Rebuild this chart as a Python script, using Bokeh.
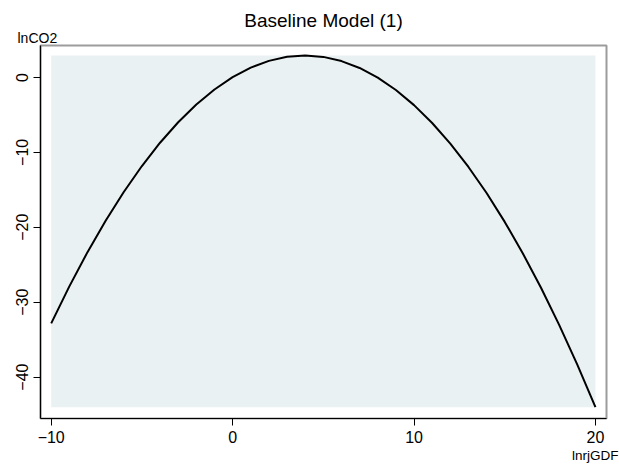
from bokeh.plotting import figure
from bokeh.models import Range1d, FixedTicker, Title, ColumnDataSource
from bokeh.embed import file_html
from bokeh.resources import INLINE

# Curve values (lnrjGDF -> fitted lnCO2)
x_vals = [-10, -9, -8, -7, -6, -5, -4, -3, -2, -1, 0, 1, 2, 3, 4, 5, 6, 7, 8, 9,
          10, 11, 12, 13, 14, 15, 16, 17, 18, 19, 20]
y_vals = [-32.83, -27.89, -23.32, -19.12, -15.29, -11.82, -8.71, -5.98, -3.60, -1.60,
          0.04, 1.32, 2.22, 2.76, 2.94, 2.75, 2.19, 1.27, -0.02, -1.67,
          -3.69, -6.08, -8.83, -11.95, -15.43, -19.28, -23.50, -28.08, -33.03, -38.34, -44.02]
x_ticks = [-10, 0, 10, 20]
y_ticks = [-40, -30, -20, -10, 0]
title_text = "Baseline Model (1)"
y_title = "lnCO2"
x_title = "lnrjGDF"

FONT = "Liberation Sans"

p = figure(width=619, height=464, output_backend="svg", toolbar_location=None,
           title=None,
           x_range=Range1d(-10.59, 20.61), y_range=Range1d(-45.53, 4.27),
           min_border_left=40, min_border_right=13, min_border_top=45, min_border_bottom=46)
p.background_fill_color = "white"
p.border_fill_color = "white"
p.outline_line_color = "#9c9c9c"
p.outline_line_width = 2
p.xgrid.visible = False
p.ygrid.visible = False

# shaded plot region spanning the data extent
src_box = ColumnDataSource(dict(left=[min(x_vals)], right=[max(x_vals)],
                                bottom=[min(y_vals)], top=[max(y_vals)]))
p.quad(left="left", right="right", bottom="bottom", top="top", source=src_box,
       fill_color="#E9F1F3", line_color=None)

p.line(x_vals, y_vals, line_color="black", line_width=2)

for ax in (p.xaxis[0], p.yaxis[0]):
    ax.axis_line_color = "black"
    ax.axis_line_width = 1.2
    ax.major_tick_line_color = "black"
    ax.major_tick_line_width = 1
    ax.major_tick_out = 7
    ax.major_tick_in = 0
    ax.minor_tick_line_color = None
    ax.major_label_text_font = FONT
    ax.major_label_text_font_size = "16px"
    ax.major_label_text_color = "black"

p.xaxis[0].ticker = FixedTicker(ticks=x_ticks)
p.yaxis[0].ticker = FixedTicker(ticks=y_ticks)
p.xaxis[0].major_label_standoff = 5
p.yaxis[0].major_label_standoff = 5
p.yaxis[0].major_label_orientation = "vertical"

# y-axis name just above the left axis
p.add_layout(Title(text=y_title, align="left", offset=-23, standoff=0,
                   vertical_align="bottom", text_font=FONT, text_font_size="14px",
                   text_font_style="normal", text_color="black"), "above")
# main title
main_title = Title(text=title_text, align="center", standoff=0,
                   vertical_align="bottom", text_font=FONT, text_font_size="19px",
                   text_font_style="normal", text_color="black")
try:
    main_title.standoff = -6
except Exception:
    main_title.standoff = 0
p.add_layout(main_title, "above")
# x-axis name under the right end of the axis
p.add_layout(Title(text=x_title, align="right", offset=-12, standoff=0,
                   vertical_align="bottom", text_font=FONT, text_font_size="13.5px",
                   text_font_style="normal", text_color="black"), "below")

open("out.html", "w").write(file_html(p, INLINE))
